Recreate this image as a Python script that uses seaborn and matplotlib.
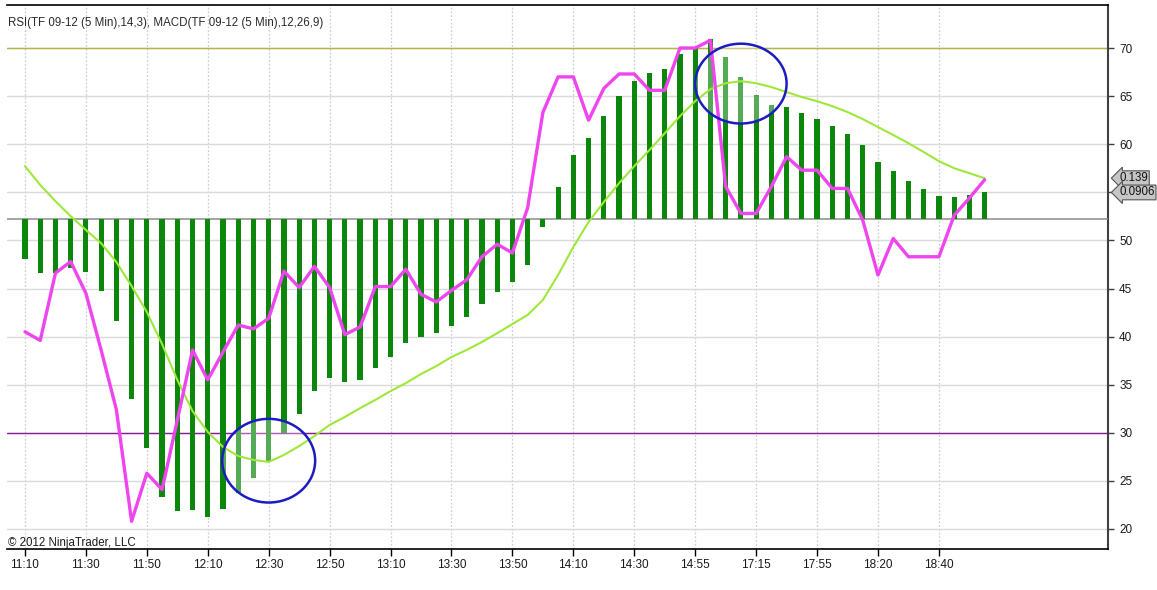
import numpy as np
import pandas as pd
import matplotlib
matplotlib.use("Agg")
import matplotlib.pyplot as plt
from matplotlib.patches import Ellipse
import seaborn as sns

# ---------------- data ----------------
tick_labels = ["11:10", "11:30", "11:50", "12:10", "12:30", "12:50", "13:10", "13:30",
               "13:50", "14:10", "14:30", "14:55", "17:15", "17:55", "18:20", "18:40"]

rsi = [40.5, 39.6, 46.6, 47.8, 44.5, 38.6, 32.4, 20.8, 25.8, 24.1,
       31.3, 38.6, 35.5, 38.4, 41.2, 40.8, 41.9, 46.8, 45.1, 47.3,
       45.1, 40.2, 41.0, 45.2, 45.2, 47.0, 44.4, 43.6, 44.8, 45.9,
       48.3, 49.6, 48.7, 53.4, 63.3, 67.0, 67.0, 62.5, 65.8, 67.3,
       67.3, 65.6, 65.6, 70.0, 70.0, 70.8, 55.6, 52.8, 52.8, 55.6,
       58.7, 57.3, 57.3, 55.4, 55.4, 52.1, 46.4, 50.2, 48.3, 48.3,
       48.3, 52.6, 54.4, 56.3]

macd = [0.180, 0.116, 0.061, 0.010, -0.037, -0.082, -0.146, -0.228, -0.316, -0.425,
        -0.547, -0.653, -0.724, -0.775, -0.806, -0.819, -0.826, -0.802, -0.772, -0.738,
        -0.700, -0.673, -0.643, -0.615, -0.585, -0.558, -0.527, -0.500, -0.469, -0.445,
        -0.418, -0.388, -0.357, -0.326, -0.275, -0.190, -0.095, -0.010, 0.058, 0.122,
        0.180, 0.235, 0.292, 0.350, 0.401, 0.442, 0.462, 0.469, 0.462, 0.449,
        0.432, 0.415, 0.401, 0.384, 0.364, 0.340, 0.313, 0.286, 0.258, 0.228,
        0.197, 0.173, 0.156, 0.139]

diff = [-0.137, -0.185, -0.183, -0.168, -0.179, -0.244, -0.346, -0.611, -0.780, -0.946,
        -0.992, -0.989, -1.012, -0.985, -0.931, -0.881, -0.827, -0.729, -0.664, -0.585,
        -0.540, -0.553, -0.547, -0.508, -0.468, -0.421, -0.400, -0.387, -0.363, -0.334,
        -0.290, -0.247, -0.215, -0.157, -0.028, 0.110, 0.218, 0.276, 0.350, 0.419,
        0.470, 0.497, 0.510, 0.560, 0.584, 0.611, 0.552, 0.484, 0.422, 0.388,
        0.380, 0.361, 0.340, 0.316, 0.290, 0.252, 0.194, 0.164, 0.130, 0.102,
        0.078, 0.075, 0.082, 0.0906]

rsi_levels = [70, 30]
rsi_ticks = [20, 25, 30, 35, 40, 45, 50, 55, 60, 65, 70]
rsi_tick_labels = ["20", "25", "30", "35", "40", "45", "50", "", "60", "65", "70"]  # 55 hidden under value tag
title_text = "RSI(TF 09-12 (5 Min),14,3), MACD(TF 09-12 (5 Min),12,26,9)"
copyright_text = "\u00a9 2012 NinjaTrader, LLC"
macd_last_label = "0.139"
diff_last_label = "0.0906"

idx = list(range(len(rsi)))
df = pd.DataFrame({"idx": idx, "rsi": rsi, "macd": macd, "diff": diff})

# ---------------- style ----------------
sns.set_theme(style="white")
plt.rcParams["font.family"] = ["Liberation Sans", "DejaVu Sans"]

fig = plt.figure(figsize=(11.57, 5.90), dpi=100)
ax = fig.add_axes([0.00605, 0.0695, 0.9516, 0.922])
ax2 = ax.twinx()
ax3 = ax.twinx()

RSI_LIM = (17.92, 74.47)
MACD_LIM = (-1.122, 0.728)

# base RSI axis: grid + levels
ax.set_ylim(*RSI_LIM)
for lvl, col in zip(rsi_levels, ["#b4b444", "#8a1a9a"]):
    ax.axhline(lvl, color=col, lw=1.0, zorder=1)

# MACD axis: bars + line
ax2.axhline(0, color="#8c8c8c", lw=1.1, zorder=1)
sns.barplot(data=df, x="idx", y="diff", ax=ax2, color="#0c870c", saturation=1,
            width=0.34, errorbar=None, zorder=2, edgecolor="none", linewidth=0)
sns.lineplot(data=df, x="idx", y="macd", ax=ax2, color="#9ee83a", lw=1.5, zorder=3)
ax2.set_ylim(*MACD_LIM)

# RSI line on top
sns.lineplot(data=df, x="idx", y="rsi", ax=ax3, color="#ef45ef", lw=2.4, zorder=4)
ax3.set_ylim(*RSI_LIM)

# annotation ellipses (fill lightens bars, edge on top)
for (cx, cy, w, h) in [(16.0, 27.1, 6.1, 8.7), (47.0, 66.3, 6.0, 8.3)]:
    ax2.add_patch(Ellipse((cx, cy), w, h, transform=ax3.transData,
                          facecolor="white", alpha=0.3, edgecolor="none", zorder=2.5))
    ax3.add_patch(Ellipse((cx, cy), w, h, facecolor="none",
                          edgecolor="#1c1cc0", lw=1.8, zorder=5))

# x axis
xlim = (-1.18, 71.1)
for a in (ax, ax2, ax3):
    a.set_xlim(*xlim)
ax.set_xticks(idx[::4])
ax.set_xticklabels(tick_labels)
ax.tick_params(axis="x", direction="out", length=5, width=1, color="black",
               labelsize=8.5, labelcolor="#1a1a1a", pad=2, bottom=True)

# y axis on right
ax.yaxis.tick_right()
ax.set_yticks(rsi_ticks)
ax.set_yticklabels(rsi_tick_labels)
ax.tick_params(axis="y", direction="out", length=4, width=1, color="#404040",
               labelsize=8.5, labelcolor="#1a1a1a", pad=4, right=True, left=False)

ax.grid(axis="y", color="#dadada", lw=1.0, ls="-")
ax.grid(axis="x", color="#cfcfcf", lw=0.9, ls=(0, (1.5, 1.5)))
ax.set_axisbelow(True)

for a in (ax2, ax3):
    a.set_yticks([])
    a.set_ylabel("")
    a.set_xlabel("")
    for s in a.spines.values():
        s.set_visible(False)
ax.set_xlabel("")
ax.set_ylabel("")
ax.spines["left"].set_visible(False)
for s in ("top", "bottom", "right"):
    ax.spines[s].set_visible(True)
    ax.spines[s].set_color("black")
    ax.spines[s].set_linewidth(1.2)
ax.spines["right"].set_color("#404040")
ax.spines["right"].set_linewidth(1.5)

# texts
ax.text(0.001, 0.967, title_text, transform=ax.transAxes, fontsize=8.3,
        color="#2a2a2a", ha="left", va="center")
ax.text(0.001, 0.011, copyright_text, transform=ax.transAxes, fontsize=8.3,
        color="#1a1a1a", ha="left", va="center")

# value tags on the right
for val, lab in [(macd[-1], macd_last_label), (diff[-1], diff_last_label)]:
    ax2.annotate(lab, xy=(1.0, val), xycoords=ax2.get_yaxis_transform(),
                 xytext=(8, 0), textcoords="offset points", ha="left", va="center",
                 fontsize=8.3, color="#111111", annotation_clip=False, zorder=10,
                 bbox=dict(boxstyle="larrow,pad=0.12", fc="#c6c6c6", ec="#555555", lw=0.8))

fig.savefig("out.png", dpi=100)
